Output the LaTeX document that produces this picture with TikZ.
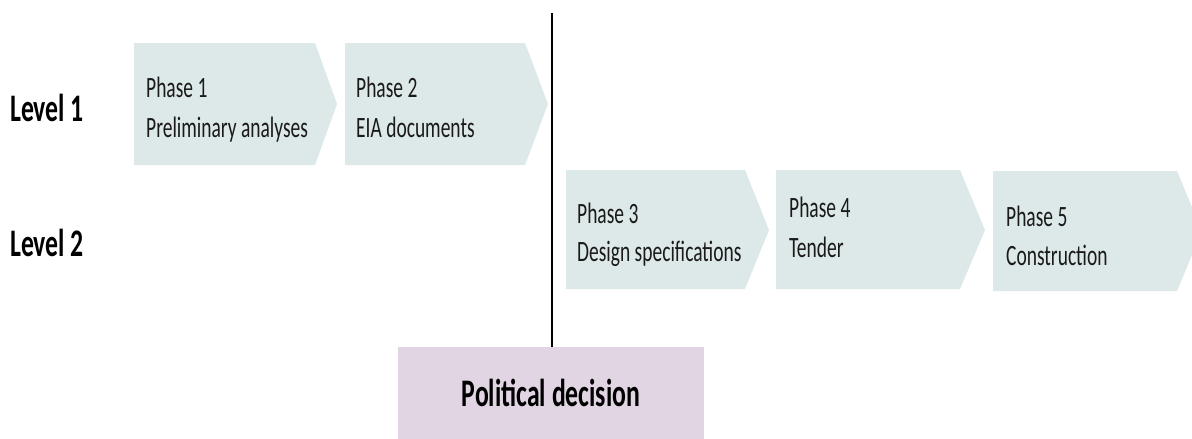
\documentclass[tikz,border=0pt]{standalone}
\usepackage{fontspec}
\setmainfont{Carlito}[FakeStretch=0.66]
\definecolor{chevfill}{HTML}{DDE8E8}
\definecolor{pdfill}{HTML}{E1D4E3}
\definecolor{textc}{HTML}{1A1A1A}
\begin{document}
\begin{tikzpicture}[x=1pt,y=-1pt,
  chev/.style={fill=chevfill},
  ptext/.style={anchor=base west,font=\fontsize{29.5}{34}\selectfont,text=textc,inner sep=0pt},
  lbl/.style={font=\fontsize{39}{44}\selectfont\bfseries,text=black,inner sep=0pt},
  pdbox/.style={fill=pdfill,minimum width=306pt,minimum height=92pt,inner sep=0pt,font=\fontsize{39}{44}\selectfont\bfseries}]
\useasboundingbox (0,0) rectangle (1192,439);
% chevrons
\fill[chev] (134,43) -- (315,43) -- (337,104) -- (315,165) -- (134,165) -- cycle;
\fill[chev] (345,43) -- (525,43) -- (548,104) -- (525,165) -- (345,165) -- cycle;
\fill[chev] (566,170) -- (745,170) -- (769,230) -- (745,289) -- (566,289) -- cycle;
\fill[chev] (776,170) -- (960,170) -- (985,230) -- (960,289) -- (776,289) -- cycle;
\fill[chev] (993,171) -- (1177,171) -- (1202,231) -- (1177,291) -- (993,291) -- cycle;
% texts
\node[ptext] (p1a) at (146,97) {Phase 1};
\node[ptext] (p1b) at (146,137) {Preliminary analyses};
\node[ptext] (p2a) at (356,97) {Phase 2};
\node[ptext] (p2b) at (356,137) {EIA documents};
\node[ptext] (p3a) at (577,223) {Phase 3};
\node[ptext] (p3b) at (577,261) {Design specifications};
\node[ptext] (p4a) at (789,217) {Phase 4};
\node[ptext] (p4b) at (789,257) {Tender};
\node[ptext] (p5a) at (1006,226) {Phase 5};
\node[ptext] (p5b) at (1006,265) {Construction};
% levels
\node[lbl,anchor=west] (l1) at (10,108) {Level 1};
\node[lbl,anchor=west] (l2) at (10,243) {Level 2};
% political decision
\node[pdbox] (pd) at (551,393) {Political decision};
\coordinate (top) at (552,13);
\draw[line width=2pt] (top) -- (top |- pd.north);
\end{tikzpicture}
\end{document}
